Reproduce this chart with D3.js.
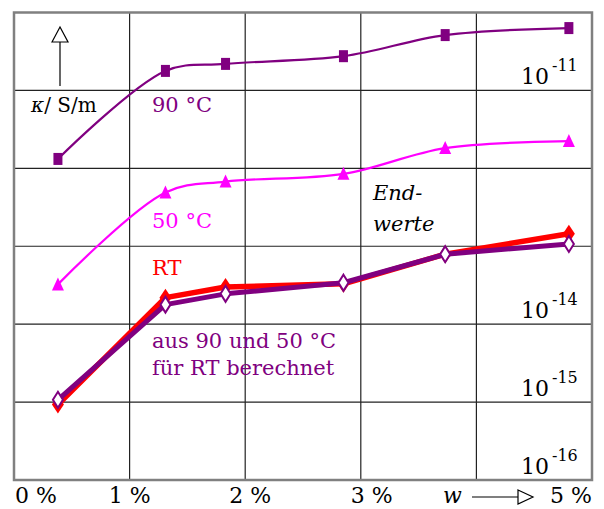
<!DOCTYPE html>
<html><head><meta charset="utf-8">
<script src="https://cdn.jsdelivr.net/npm/d3@7"></script>
<style>body{margin:0;background:#fff} text{font-family:"DejaVu Serif", serif;}</style>
</head><body><svg id="c" width="604" height="509"></svg>
<script>
// water content w in %
const wValues = [0.38, 1.31, 1.83, 2.85, 3.73, 4.80];
// conductivity kappa in S/m
const kappa90 = [1.32e-12, 1.78e-11, 2.19e-11, 2.75e-11, 5.13e-11, 6.31e-11];
const kappa50 = [3.24e-14, 4.9e-13, 6.76e-13, 8.5e-13, 1.82e-12, 2.24e-12];
const kappaRT = [9.3e-16, 2.19e-14, 3.0e-14, 3.3e-14, 7.9e-14, 1.45e-13];
const kappaCalc = [1.07e-15, 1.78e-14, 2.45e-14, 3.4e-14, 7.9e-14, 1.07e-13];
const xTicks = [0, 1, 2, 3, 5];
const xTickLabels = ["0 %", "1 %", "2 %", "3 %", "5 %"];
const yGrid = [1e-15, 1e-14, 1e-13, 1e-12, 1e-11];
const yLabelValues = [1e-11, 1e-14, 1e-15, 1e-16];
const yLabelExps = ["-11", "-14", "-15", "-16"];

const svg = d3.select("#c");
const x = d3.scaleLinear().domain([0, 5]).range([14, 592]);
const y = d3.scaleLog().domain([1e-16, 1e-10]).range([480, 12.5]);

// grid
const g = svg.append("g");
[1, 2, 3, 4].forEach(v => g.append("line").attr("x1", x(v)).attr("x2", x(v)).attr("y1", y(1e-10)).attr("y2", y(1e-16)).attr("stroke", "#222").attr("stroke-width", 1.2));
yGrid.forEach(v => g.append("line").attr("x1", x(0)).attr("x2", x(5)).attr("y1", y(v)).attr("y2", y(v)).attr("stroke", "#222").attr("stroke-width", 1.2));
g.append("rect").attr("x", x(0)).attr("y", y(1e-10)).attr("width", x(5) - x(0)).attr("height", y(1e-16) - y(1e-10))
  .attr("fill", "none").attr("stroke", "#808080").attr("stroke-width", 2.5);

const T = (sel) => sel.append("text");

// y labels
yLabelValues.forEach((v, i) => {
  const t = T(svg).attr("x", 521).attr("y", y(v) - 6).attr("font-size", 22).attr("fill", "#000");
  t.append("tspan").text("10");
  t.append("tspan").attr("dy", -13).attr("dx", 3).attr("font-size", 16).text(yLabelExps[i]);
});

// x labels
const xAnchor = ["start", "middle", "middle", "middle", "end"];
const xDx = [1, 0, 5, 11, 0];
xTicks.forEach((v, i) => {
  T(svg).attr("x", x(v) + xDx[i]).attr("y", 503).attr("text-anchor", xAnchor[i])
    .attr("font-size", 22).text(xTickLabels[i]);
});
T(svg).attr("x", 443).attr("y", 503).attr("font-size", 22).attr("font-style", "italic").text("w");
svg.append("line").attr("x1", 472).attr("x2", 518).attr("y1", 497).attr("y2", 497).attr("stroke", "#000").attr("stroke-width", 1.2);
svg.append("path").attr("d", "M518,490 L533,497 L518,504 Z").attr("fill", "#fff").attr("stroke", "#000").attr("stroke-width", 1.2);

// y axis title arrow
svg.append("line").attr("x1", 60).attr("x2", 60).attr("y1", 86).attr("y2", 42).attr("stroke", "#000").attr("stroke-width", 1.2);
svg.append("path").attr("d", "M52,42 L60,27 L68,42 Z").attr("fill", "#fff").attr("stroke", "#000").attr("stroke-width", 1.2);
const kt = T(svg).attr("x", 31).attr("y", 112).attr("font-size", 20);
kt.append("tspan").attr("font-style", "italic").text("κ");
kt.append("tspan").text("/ S/m");

const pts = arr => wValues.map((w, i) => [x(w), y(arr[i])]);
const smooth = d3.line().curve(d3.curveCatmullRom.alpha(0.5));
const straight = d3.line();

// 90 °C
svg.append("path").attr("d", smooth(pts(kappa90))).attr("fill", "none").attr("stroke", "#800080").attr("stroke-width", 2.2);
pts(kappa90).forEach(p => svg.append("rect").attr("x", p[0] - 4.5).attr("y", p[1] - 6).attr("width", 9).attr("height", 12).attr("fill", "#800080"));
// 50 °C
svg.append("path").attr("d", smooth(pts(kappa50))).attr("fill", "none").attr("stroke", "#ff00ff").attr("stroke-width", 2.2);
pts(kappa50).forEach(p => svg.append("path").attr("d", `M${p[0] - 6},${p[1] + 6} L${p[0]},${p[1] - 7} L${p[0] + 6},${p[1] + 6} Z`).attr("fill", "#ff00ff"));
// RT
svg.append("path").attr("d", straight(pts(kappaRT))).attr("fill", "none").attr("stroke", "#ff0000").attr("stroke-width", 5.5).attr("stroke-linejoin", "round");
pts(kappaRT).forEach(p => svg.append("path").attr("d", `M${p[0]},${p[1] - 9} L${p[0] + 6},${p[1]} L${p[0]},${p[1] + 9} L${p[0] - 6},${p[1]} Z`).attr("fill", "#ff0000"));
// calculated
svg.append("path").attr("d", straight(pts(kappaCalc))).attr("fill", "none").attr("stroke", "#800080").attr("stroke-width", 5).attr("stroke-linejoin", "round");
pts(kappaCalc).forEach(p => svg.append("path").attr("d", `M${p[0]},${p[1] - 8} L${p[0] + 5},${p[1]} L${p[0]},${p[1] + 8} L${p[0] - 5},${p[1]} Z`).attr("fill", "#fff").attr("stroke", "#800080").attr("stroke-width", 2));

// labels
const lab = (t, xx, yy, c, it) => T(svg).attr("x", xx).attr("y", yy).attr("font-size", 21).attr("fill", c).attr("font-style", it ? "italic" : "normal").text(t);
lab("90 °C", 152, 112, "#800080");
lab("50 °C", 152, 228, "#ff00ff");
lab("RT", 152, 275, "#ff0000");
lab("aus 90 und 50 °C", 152, 348, "#800080");
lab("für RT berechnet", 152, 375, "#800080");
lab("End-", 373, 200, "#000", true);
lab("werte", 373, 231, "#000", true);
</script></body></html>
